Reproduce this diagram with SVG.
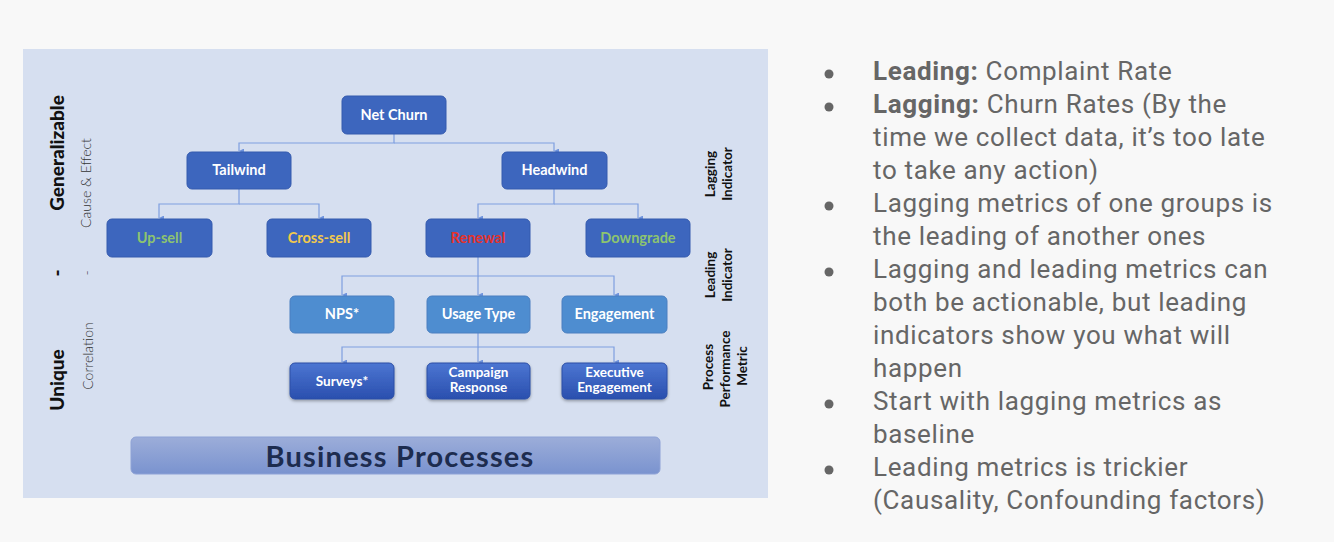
<svg xmlns="http://www.w3.org/2000/svg" width="1334" height="542" viewBox="0 0 1334 542">
<defs>
<style>
.node{font-family:Lato,"Noto Sans",sans-serif;font-weight:bold;font-size:14.5px;text-anchor:middle;fill:#fff}
.small{font-size:13.5px}
.main{fill:#3d66be;stroke:#345aae;stroke-width:1}
.light{fill:#4e8dd0;stroke:#4a7fc0;stroke-width:1}
.dark{fill:url(#darkg);stroke:#2d4fa6;stroke-width:1;filter:url(#sh)}
.conn{fill:none;stroke:#7e9fe0;stroke-width:1.2}
.side{font-family:Lato,"Noto Sans",sans-serif;font-weight:bold;font-size:13.5px;fill:#111;text-anchor:middle}
.big{font-family:Lato,"Noto Sans",sans-serif;font-weight:900;font-size:19px;fill:#111;text-anchor:middle}
.thin{font-family:Lato,"Noto Sans",sans-serif;font-weight:300;font-size:14px;fill:#333;text-anchor:middle}
.bul{font-family:Roboto,"Liberation Sans",sans-serif;font-size:26px;letter-spacing:0.65px;fill:#666}
.b{font-weight:bold}
</style>
<linearGradient id="darkg" x1="0" y1="0" x2="0" y2="1">
<stop offset="0" stop-color="#4c76d2"/>
<stop offset="1" stop-color="#2a4fae"/>
</linearGradient>
<linearGradient id="barg" x1="0" y1="0" x2="0" y2="1">
<stop offset="0" stop-color="#9cadd9"/>
<stop offset="1" stop-color="#7a93cf"/>
</linearGradient>
<filter id="sh" x="-10%" y="-20%" width="120%" height="150%">
<feDropShadow dx="0" dy="1.5" stdDeviation="1.5" flood-color="#000" flood-opacity="0.35"/>
</filter>
<marker id="ah" viewBox="0 0 6 6" refX="3" refY="6" markerWidth="5" markerHeight="5" orient="auto-start-reverse" markerUnits="userSpaceOnUse">
<path d="M0,0 L6,0 L3,6 Z" fill="#6f93dc"/>
</marker>
</defs>
<rect x="0" y="0" width="1334" height="542" fill="#f8f8f8"/>
<rect id="panel" x="23" y="49" width="745" height="449" fill="#d6dff0"/>

<g id="connectors">
<path class="conn" d="M394,134 V143 H239 V151" marker-end="url(#ah)"/>
<path class="conn" d="M394,143 H554 V151" marker-end="url(#ah)"/>
<path class="conn" d="M239,189 V204 H159 V218" marker-end="url(#ah)"/>
<path class="conn" d="M239,204 H319 V218" marker-end="url(#ah)"/>
<path class="conn" d="M554,189 V204 H478 V218" marker-end="url(#ah)"/>
<path class="conn" d="M554,204 H638 V218" marker-end="url(#ah)"/>
<path class="conn" d="M478,257 V276 H342 V295" marker-end="url(#ah)"/>
<path class="conn" d="M478,276 V295" marker-end="url(#ah)"/>
<path class="conn" d="M478,276 H614 V295" marker-end="url(#ah)"/>
<path class="conn" d="M478,333 V347 H342 V362" marker-end="url(#ah)"/>
<path class="conn" d="M478,347 V362" marker-end="url(#ah)"/>
<path class="conn" d="M478,347 H614 V362" marker-end="url(#ah)"/>
</g>

<g id="net-churn"><rect class="main" x="342" y="96" width="104" height="38" rx="5"/><text class="node" x="394" y="120">Net Churn</text></g>
<g id="tailwind"><rect class="main" x="187" y="152" width="104" height="37" rx="5"/><text class="node" x="239" y="175">Tailwind</text></g>
<g id="headwind"><rect class="main" x="502" y="152" width="105" height="37" rx="5"/><text class="node" x="554.5" y="175">Headwind</text></g>
<g id="up-sell"><rect class="main" x="107" y="219" width="105" height="38" rx="5"/><text class="node" x="159.5" y="243" style="fill:#8dc46f">Up-sell</text></g>
<g id="cross-sell"><rect class="main" x="267" y="219" width="104" height="38" rx="5"/><text class="node" x="319" y="243" style="fill:#f2c94c">Cross-sell</text></g>
<g id="renewal"><rect class="main" x="426" y="219" width="104" height="38" rx="5"/><text class="node" x="478" y="243" style="fill:#e5322b">Renewal</text></g>
<g id="downgrade"><rect class="main" x="586" y="219" width="104" height="38" rx="5"/><text class="node" x="638" y="243" style="fill:#8dc46f">Downgrade</text></g>

<g id="nps"><rect class="light" x="290" y="296" width="104" height="37" rx="5"/><text class="node" x="342" y="319">NPS*</text></g>
<g id="usage-type"><rect class="light" x="427" y="296" width="103" height="37" rx="5"/><text class="node" x="478.5" y="319">Usage Type</text></g>
<g id="engagement"><rect class="light" x="562" y="296" width="105" height="37" rx="5"/><text class="node" x="614.5" y="319">Engagement</text></g>

<g id="surveys"><rect class="dark" x="290" y="363" width="104" height="36" rx="5"/><text class="node small" x="342" y="386">Surveys*</text></g>
<g id="campaign-response"><rect class="dark" x="427" y="363" width="103" height="36" rx="5"/><text class="node small" x="478.5" y="377">Campaign</text><text class="node small" x="478.5" y="392">Response</text></g>
<g id="executive-engagement"><rect class="dark" x="562" y="363" width="105" height="36" rx="5"/><text class="node small" x="614.5" y="377">Executive</text><text class="node small" x="614.5" y="392">Engagement</text></g>

<g id="business-processes"><rect x="131" y="437" width="529" height="37" rx="5" fill="url(#barg)" stroke="#8ea2d6" stroke-width="1"/><text x="400" y="467" font-family="Lato,'Noto Sans',sans-serif" font-weight="bold" font-size="29" letter-spacing="1.2" fill="#1d2c4f" text-anchor="middle">Business Processes</text></g>

<g id="left-labels">
<text class="big" x="64" y="153" transform="rotate(-90 64 153)">Generalizable</text>
<text class="thin" x="91" y="183" transform="rotate(-90 91 183)">Cause &amp; Effect</text>
<text class="big" x="64" y="273" transform="rotate(-90 64 273)">-</text>
<text class="thin" x="92" y="273" transform="rotate(-90 92 273)">-</text>
<text class="big" x="64" y="380" transform="rotate(-90 64 380)">Unique</text>
<text class="thin" x="93" y="356" transform="rotate(-90 93 356)">Correlation</text>
</g>

<g id="right-labels">
<text class="side" x="714.5" y="174" transform="rotate(-90 714.5 174)">Lagging</text>
<text class="side" x="731.5" y="174" transform="rotate(-90 731.5 174)">Indicator</text>
<text class="side" x="714.5" y="275" transform="rotate(-90 714.5 275)">Leading</text>
<text class="side" x="731.5" y="275" transform="rotate(-90 731.5 275)">Indicator</text>
<text class="side" x="712.5" y="367" transform="rotate(-90 712.5 367)">Process</text>
<text class="side" x="729.5" y="369" transform="rotate(-90 729.5 369)">Performance</text>
<text class="side" x="746.5" y="366" transform="rotate(-90 746.5 366)">Metric</text>
</g>

<g id="notes" class="bul">
<circle cx="829" cy="74" r="4.5" fill="#666"/>
<circle cx="829" cy="107" r="4.5" fill="#666"/>
<circle cx="829" cy="206" r="4.5" fill="#666"/>
<circle cx="829" cy="272" r="4.5" fill="#666"/>
<circle cx="829" cy="404" r="4.5" fill="#666"/>
<circle cx="829" cy="470" r="4.5" fill="#666"/>
<text x="873" y="80"><tspan class="b">Leading:</tspan> Complaint Rate</text>
<text x="873" y="113"><tspan class="b">Lagging:</tspan> Churn Rates (By the</text>
<text x="873" y="146">time we collect data, it’s too late</text>
<text x="873" y="179">to take any action)</text>
<text x="873" y="212">Lagging metrics of one groups is</text>
<text x="873" y="245">the leading of another ones</text>
<text x="873" y="278">Lagging and leading metrics can</text>
<text x="873" y="311">both be actionable, but leading</text>
<text x="873" y="344">indicators show you what will</text>
<text x="873" y="377">happen</text>
<text x="873" y="410">Start with lagging metrics as</text>
<text x="873" y="443">baseline</text>
<text x="873" y="476">Leading metrics is trickier</text>
<text x="873" y="509">(Causality, Confounding factors)</text>
</g>
</svg>
